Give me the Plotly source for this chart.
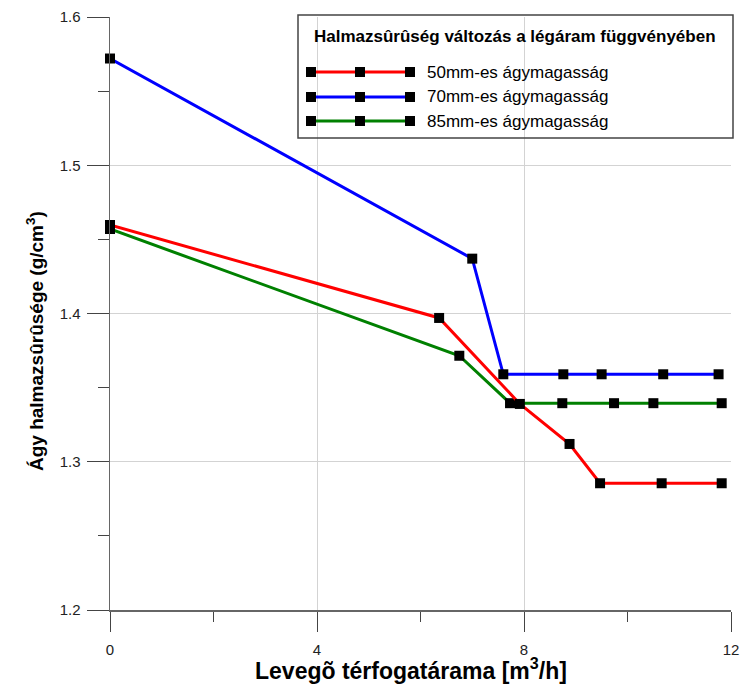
import plotly.graph_objects as go

# ---- data ----
x_tick_vals = [0, 4, 8, 12]
y_tick_vals = [1.2, 1.3, 1.4, 1.5, 1.6]

series_names = ["50mm-es ágymagasság", "70mm-es ágymagasság", "85mm-es ágymagasság"]
series_colors = ["#ff0000", "#0000ff", "#008000"]

x50 = [0, 6.36, 7.92, 8.88, 9.47, 10.66, 11.82]
y50 = [1.4597, 1.397, 1.339, 1.312, 1.2855, 1.2855, 1.2855]

x70 = [0, 7.0, 7.6, 8.76, 9.5, 10.69, 11.76]
y70 = [1.572, 1.437, 1.359, 1.359, 1.359, 1.359, 1.359]

x85 = [0, 6.75, 7.73, 8.74, 9.74, 10.5, 11.82]
y85 = [1.457, 1.3715, 1.3395, 1.3395, 1.3395, 1.3395, 1.3395]

legend_title = "Halmazsûrûség változás a légáram függvényében"
x_title = "Levegõ térfogatárama [m<sup>3</sup>/h]"
y_title = "Ágy halmazsûrûsége (g/cm<sup>3</sup>)"

FONT = "Liberation Sans, Arial, sans-serif"

W, H = 741, 685
# plot area in screenshot pixels: x 110..731, y 17..610
PL, PR, PT, PB = 110, 731, 17, 610
ML, MR, MT, MB = PL, W - PR, PT, H - PB
PW, PH = PR - PL, PB - PT


def px(xp):
    return (xp - PL) / PW


def py(yp):
    return (PB - yp) / PH


fig = go.Figure()
data = [(x70, y70, 1), (x85, y85, 2), (x50, y50, 0)]
for xs, ys, i in data:
    fig.add_trace(go.Scatter(
        x=xs, y=ys, mode="lines+markers", name=series_names[i],
        line=dict(color=series_colors[i], width=3),
        marker=dict(symbol="square", size=10, color="black"),
        showlegend=False, cliponaxis=False,
    ))

shapes = []
annotations = []

# custom legend box
shapes.append(dict(type="rect", xref="paper", yref="paper",
                   x0=px(298), x1=px(733), y0=py(138), y1=py(15),
                   line=dict(color="#444444", width=1.5), fillcolor="rgba(0,0,0,0)"))
annotations.append(dict(text="<b>" + legend_title + "</b>", xref="paper", yref="paper",
                        x=px(515), y=py(37), showarrow=False, xanchor="center", yanchor="middle",
                        font=dict(family=FONT, size=17, color="black")))
item_y = [72, 97, 121]
for i, name in enumerate(series_names):
    yy = py(item_y[i])
    shapes.append(dict(type="line", xref="paper", yref="paper",
                       x0=px(311), x1=px(410), y0=yy, y1=yy,
                       line=dict(color=series_colors[i], width=3)))
    for mx in (311, 360, 410):
        shapes.append(dict(type="rect", xref="paper", yref="paper",
                           xsizemode="pixel", ysizemode="pixel",
                           xanchor=px(mx), yanchor=yy, x0=-5, x1=5, y0=-5, y1=5,
                           fillcolor="black", line=dict(width=0)))
    annotations.append(dict(text=name, xref="paper", yref="paper", x=px(425), y=yy,
                            showarrow=False, xanchor="left", yanchor="middle",
                            font=dict(family=FONT, size=17, color="black")))

# axis titles
annotations.append(dict(text="<b>" + x_title + "</b>", xref="paper", yref="paper",
                        x=px(411), y=py(669), showarrow=False, xanchor="center", yanchor="middle",
                        font=dict(family=FONT, size=23, color="black")))
annotations.append(dict(text="<b>" + y_title + "</b>", xref="paper", yref="paper",
                        x=px(35), y=py(341), showarrow=False, xanchor="center", yanchor="middle",
                        textangle=-90,
                        font=dict(family=FONT, size=19, color="black")))

fig.update_layout(
    width=W, height=H,
    margin=dict(l=ML, r=MR, t=MT, b=MB, pad=0, autoexpand=False),
    paper_bgcolor="white", plot_bgcolor="white",
    font=dict(family=FONT, size=15, color="#222222"),
    shapes=shapes, annotations=annotations,
    showlegend=False,
)
fig.update_xaxes(
    automargin=False,
    range=[0, 12], tickvals=x_tick_vals, ticktext=[str(v) for v in x_tick_vals],
    showgrid=True, gridcolor="#d3d3d3", gridwidth=1, zeroline=False,
    showline=True, linecolor="#666666", linewidth=1.5,
    ticks="outside", ticklen=20, tickcolor="#444444", tickwidth=1,
    ticklabelstandoff=5,
    minor=dict(dtick=2, tick0=0, ticks="outside", ticklen=10, tickcolor="#444444", showgrid=False),
    tickfont=dict(family=FONT, size=15, color="#222222"),
)
fig.update_yaxes(
    automargin=False,
    range=[1.2, 1.6], tickvals=y_tick_vals, ticktext=[f"{v:.1f}" for v in y_tick_vals],
    showgrid=True, gridcolor="#d3d3d3", gridwidth=1, zeroline=False,
    showline=True, linecolor="#666666", linewidth=1.5,
    ticks="outside", ticklen=22, tickcolor="#444444", tickwidth=1,
    ticklabelstandoff=3,
    minor=dict(dtick=0.05, tick0=1.2, ticks="outside", ticklen=11, tickcolor="#444444", showgrid=False),
    tickfont=dict(family=FONT, size=15, color="#222222"),
)

fig.write_html(
    "out.html",
    config={"displayModeBar": False, "staticPlot": True},
    post_script="document.body.style.margin='0';document.body.style.overflow='hidden';",
)
